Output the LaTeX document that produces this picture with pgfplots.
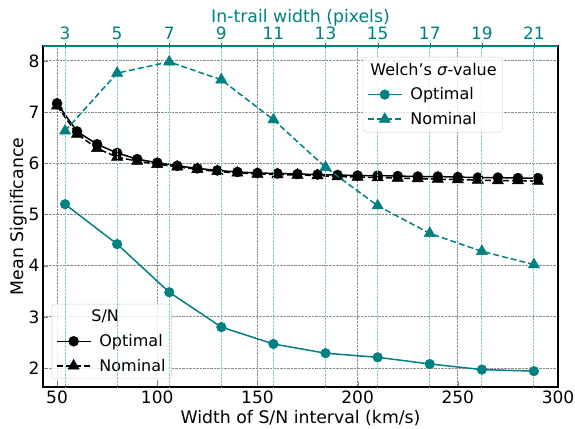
\documentclass[border=0pt]{standalone}
\usepackage{fontspec}
\setmainfont{DejaVu Sans}
\usepackage{pgfplots}
\pgfplotsset{compat=1.18}
\definecolor{mplteal}{HTML}{008080}
\begin{document}
\begin{tikzpicture}
\useasboundingbox (-43pt,-41pt) rectangle (532pt,387pt);
\pgfplotsset{
  common/.style={
    at={(0pt,0pt)}, anchor=south west, scale only axis,
    width=515pt, height=341pt, ymin=1.63, ymax=8.29,
    tick align=inside, major tick length=5pt,
    /pgf/number format/assume math mode=true,
    tick label style={font=\fontsize{17}{20}\selectfont},
    label style={font=\fontsize{17.3}{20}\selectfont},
    axis line style={line width=1.2pt},
    legend cell align=left,
    legend style={font=\fontsize{16}{19}\selectfont, draw=black!20, rounded corners=3pt,
      fill=white, fill opacity=0.8, text opacity=1, draw opacity=1,
      inner xsep=4pt, inner ysep=4pt, row sep=7pt,
      /tikz/every odd column/.append style={column sep=6pt}},
    legend image code/.code={\draw[mark repeat=2,mark phase=2,##1] plot coordinates {(0pt,0pt)(17pt,0pt)(34pt,0pt)};},
  }
}
\begin{axis}[common,
  xmin=43, xmax=300,
  xtick={50,100,...,300}, ytick={2,3,...,8},
  xtick pos=lower, ytick pos=left,
  grid=major, grid style={densely dotted, black!45, line width=0.8pt},
  xlabel={Width of S/N interval (km/s)}, ylabel={Mean Significance},
  ylabel style={yshift=-5pt},
  legend style={at={(0.0169,0.0235)}, anchor=south west},
]
\addlegendimage{empty legend}\addlegendentry{\hspace*{-8pt}S/N}
\addplot[black, line width=1.5pt, mark=*, mark size=5pt, mark options={solid, fill=black, draw=black, line width=0.5pt, fill opacity=1}] coordinates {
(50,7.17)(60,6.62)(70,6.37)(80,6.20)(90,6.08)(100,6.01)(110,5.95)(120,5.90)(130,5.86)(140,5.83)
(150,5.81)(160,5.80)(170,5.79)(180,5.78)(190,5.77)(200,5.76)(210,5.76)(220,5.75)(230,5.74)(240,5.74)
(250,5.73)(260,5.72)(270,5.72)(280,5.71)(290,5.71)};
\addlegendentry{Optimal}
\addplot[black, line width=1.5pt, dash pattern=on 6pt off 3pt, mark=triangle*, mark size=6.5pt, mark options={solid, fill=black, draw=black, line width=0.5pt, fill opacity=1}] coordinates {
(50,7.12)(60,6.57)(70,6.29)(80,6.12)(90,6.04)(100,5.98)(110,5.93)(120,5.88)(130,5.84)(140,5.81)
(150,5.79)(160,5.78)(170,5.77)(180,5.76)(190,5.74)(200,5.73)(210,5.72)(220,5.71)(230,5.70)(240,5.69)
(250,5.68)(260,5.67)(270,5.66)(280,5.66)(290,5.65)};
\addlegendentry{Nominal}
\end{axis}
\begin{axis}[common,
  xmin=2.1538, xmax=21.923,
  axis x line=top, axis y line=none, ytick=\empty,
  xtick={3,5,...,21},
  x axis line style={-, mplteal, line width=1.2pt},
  xticklabel style={text=mplteal},
  xlabel style={text=mplteal, font=\fontsize{17.3}{20}\selectfont, yshift=-6pt},
  major tick style={mplteal},
  xmajorgrids, grid style={densely dotted, mplteal!45, line width=1pt},
  xlabel={In-trail width (pixels)},
  legend style={at={(0.893,0.968)}, anchor=north east},
]
\addlegendimage{empty legend}\addlegendentry{\hspace*{-40pt}Welch's \textit{σ}-value}
\addplot[mplteal, line width=1.5pt, mark=*, mark size=4.8pt, mark options={solid, fill=mplteal, draw=mplteal, line width=0.5pt, fill opacity=1}] coordinates {
(3,5.20)(5,4.42)(7,3.48)(9,2.80)(11,2.47)(13,2.29)(15,2.21)(17,2.08)(19,1.97)(21,1.94)};
\addlegendentry{Optimal}
\addplot[mplteal, line width=1.5pt, dash pattern=on 6pt off 3pt, mark=triangle*, mark size=6.5pt, mark options={solid, fill=mplteal, draw=mplteal, line width=0.5pt, fill opacity=1}] coordinates {
(3,6.63)(5,7.76)(7,7.98)(9,7.63)(11,6.85)(13,5.92)(15,5.17)(17,4.63)(19,4.28)(21,4.02)};
\addlegendentry{Nominal}
\end{axis}
\end{tikzpicture}
\end{document}
